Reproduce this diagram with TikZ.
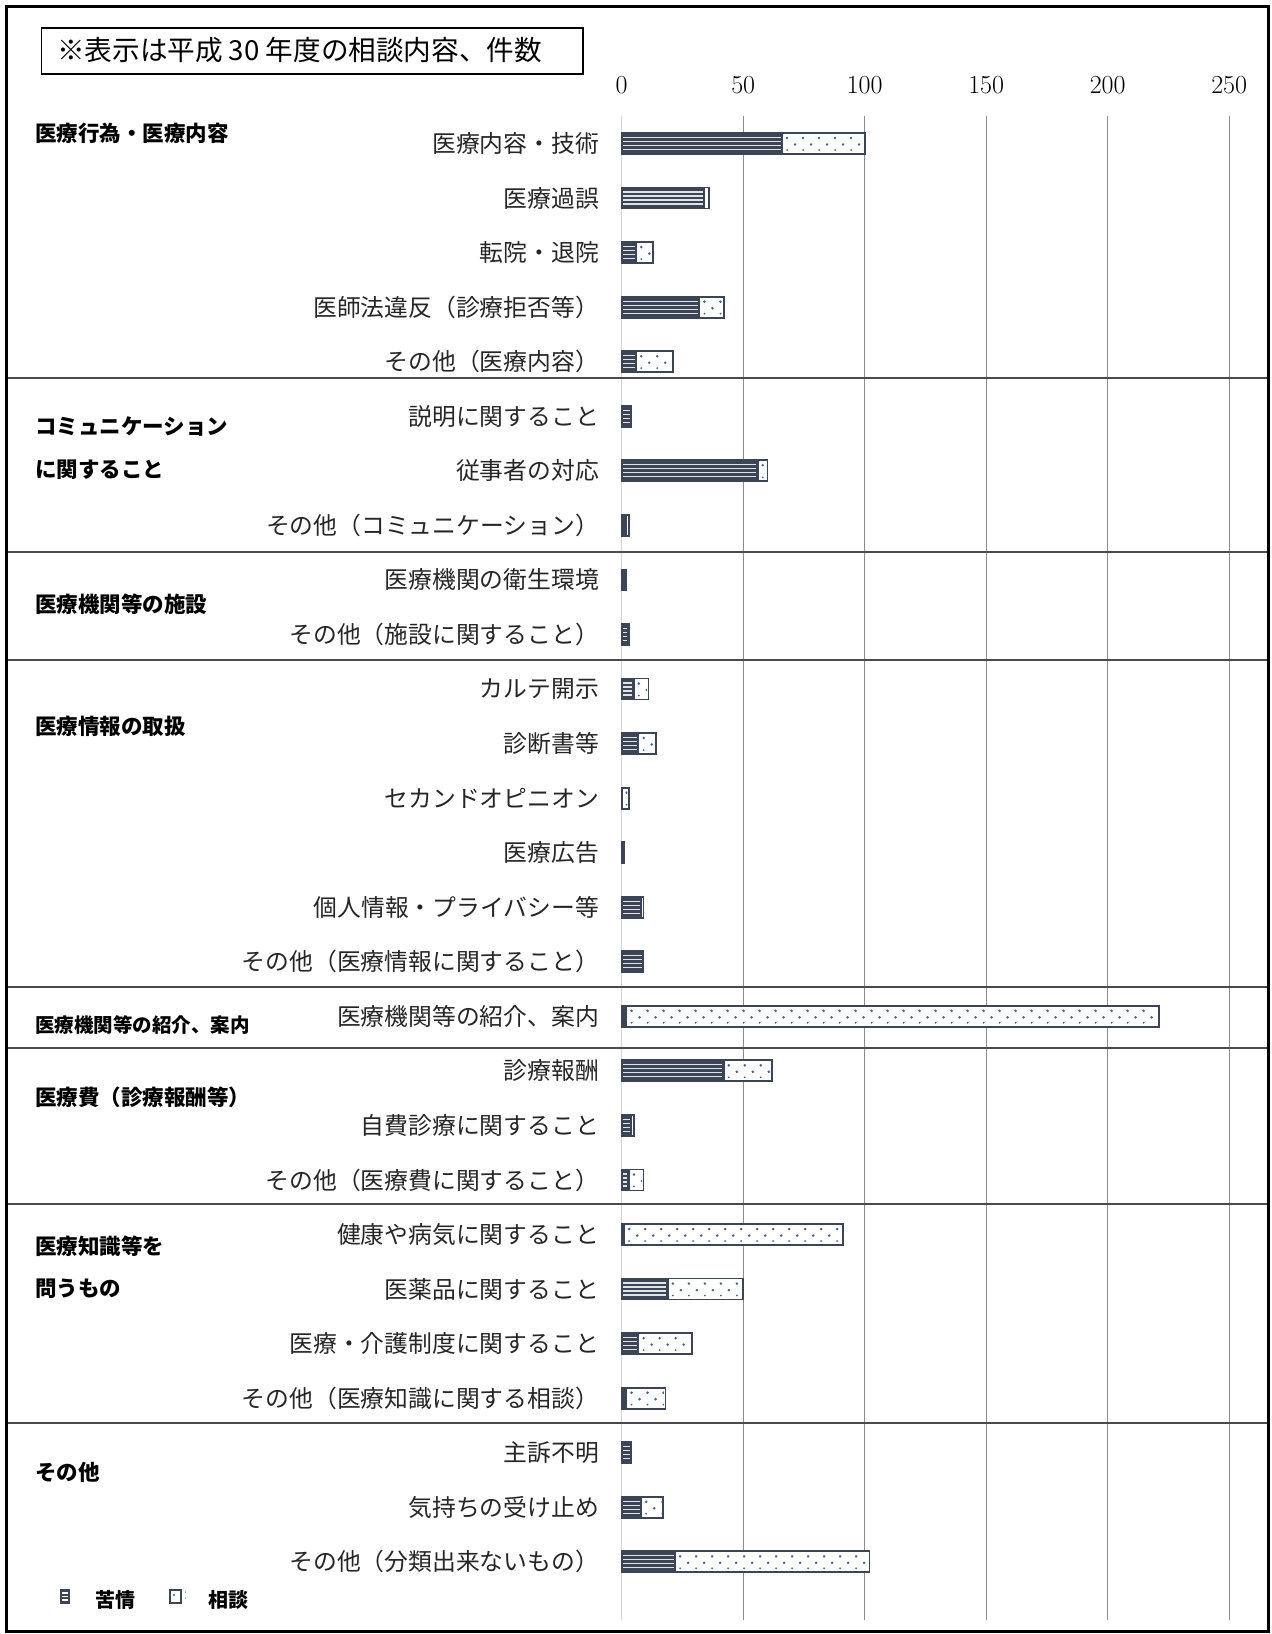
\documentclass[tikz,border=0pt]{standalone}
\usepackage{fontspec}
\newfontfamily\jp{Noto Sans CJK JP}
\definecolor{bardark}{HTML}{3B4556}
\definecolor{dotblue}{HTML}{3F62A8}
\definecolor{gridgray}{HTML}{8C8C8C}
\definecolor{gridlight}{HTML}{D4D4D4}
\definecolor{sepgray}{HTML}{4A4A4A}
\def\xz{621.7}
\newcommand\mybar[3]{%
  \pgfmathsetmacro\ya{#1-10.5}%
  \pgfmathsetmacro\yb{#1+10.5}%
  \pgfmathsetmacro\xa{\xz+2.43*#2}%
  \pgfmathsetmacro\xb{\xz+2.43*(#2+#3)}%
  \ifdim #2pt>0pt
    \fill[bardark] (\xz,\ya) rectangle (\xa,\yb);
    \ifdim #2pt>2pt
      \foreach \dd in {-6,-2,2,6} \draw[white!85!bardark,line width=1.2] (\xz+1.5,#1+\dd) -- (\xa-1.5,#1+\dd);
    \fi
  \fi
  \ifdim #3pt>0pt
    \fill[white] (\xa,\ya) rectangle (\xb,\yb);
    \begin{scope}
      \clip (\xa+1.5,\ya+1.5) rectangle (\xb-1.5,\yb-1.5);
      \pgfmathtruncatemacro\nd{(\xb-\xa)/16}
      \foreach \k in {0,...,\nd} {
        \fill[dotblue] (\xa+5+16*\k,#1-5.5) circle (1.4);
        \fill[dotblue] (\xa+13+16*\k,#1+1) circle (1.4);
        \fill[dotblue] (\xa+5+16*\k,#1+6.5) circle (1.0);
      }
    \end{scope}
    \draw[bardark,line width=1.5] (\xa,\ya) -- (\xa,\yb);
  \fi
  \draw[bardark,line width=1.8] (\xz,\ya) rectangle (\xb,\yb);
}
\tikzset{
  item/.style={anchor=east, inner sep=0, text=black!85, font=\jp\fontsize{23.8}{24}\selectfont},
  cat/.style={anchor=west, inner sep=0, text=black, font=\jp\bfseries\fontsize{21.5}{22}\selectfont},
  axlab/.style={inner sep=0, text=black, font=\fontsize{26}{26}\selectfont},
  leg/.style={anchor=west, inner sep=0, text=black, font=\jp\bfseries\fontsize{20}{20}\selectfont},
}
\begin{document}
\begin{tikzpicture}[x=1pt,y=-1pt]
\useasboundingbox (0,0) rectangle (1272,1634);
\fill[white] (0,0) rectangle (1272,1634);
% grid
\draw[gridlight,line width=1.3] (621.7,116) -- (621.7,1620);
\foreach \k in {1,...,5} \draw[gridgray,line width=1.3] (621.7+121.5*\k,116) -- (621.7+121.5*\k,1620);
% axis labels
\foreach \k/\v in {0/0,1/50,2/100,3/150,4/200,5/250}
  \node[axlab] (a\k) at (621.7+121.5*\k,85) {\v};
% separators
\foreach \s in {378,552,660,987,1048,1204,1423}
  \draw[sepgray,line width=1.4] (6,\s) -- (1268,\s);
% frame
\draw[black,line width=3] (6.5,6.5) rectangle (1268.5,1631);
% title
\node[draw=black,line width=1.6,anchor=north west,minimum width=541.5pt,minimum height=46pt,inner sep=0] (titlebox) at (40.5,27) {};
\node[anchor=west,inner sep=0,font=\jp\fontsize{27.6}{28}\selectfont] (title) at (57,50) {※表示は平成 30 年度の相談内容、件数};
% rows
\foreach \i/\t/\a/\b in {
 1/医療内容・技術/66/34,
 2/医療過誤/34/2,
 3/転院・退院/6/7,
 4/医師法違反（診療拒否等）/32/10,
 5/その他（医療内容）/6/15,
 6/説明に関すること/4/0,
 7/従事者の対応/56/4,
 8/その他（コミュニケーション）/2/1,
 9/医療機関の衛生環境/2/0,
 10/その他（施設に関すること）/3/0,
 11/カルテ開示/5/6,
 12/診断書等/7/7,
 13/セカンドオピニオン/0/3,
 14/医療広告/1/0,
 15/個人情報・プライバシー等/8/1,
 16/その他（医療情報に関すること）/9/0,
 17/医療機関等の紹介、案内/2/219,
 18/診療報酬/42/20,
 19/自費診療に関すること/4/1,
 20/その他（医療費に関すること）/3/6,
 21/健康や病気に関すること/1/90,
 22/医薬品に関すること/19/31,
 23/医療・介護制度に関すること/7/22,
 24/その他（医療知識に関する相談）/2/16,
 25/主訴不明/4/0,
 26/気持ちの受け止め/8/9,
 27/その他（分類出来ないもの）/22/80}
{
  \pgfmathsetmacro\yy{143.5+54.55*(\i-1)}
  \node[item] (r\i) at (599,\yy) {\t};
  \mybar{\yy}{\a}{\b}
}
% categories
\node[cat] (c1) at (35,133) {医療行為・医療内容};
\node[cat] (c2a) at (35,427) {コミュニケーション};
\node[cat] (c2b) at (35,470) {に関すること};
\node[cat] (c3) at (35,604) {医療機関等の施設};
\node[cat] (c4) at (35,726) {医療情報の取扱};
\node[cat,font=\jp\bfseries\fontsize{19.5}{20}\selectfont] (c5) at (35,1025) {医療機関等の紹介、案内};
\node[cat] (c6) at (35,1097) {医療費（診療報酬等）};
\node[cat] (c7a) at (35,1246) {医療知識等を};
\node[cat] (c7b) at (35,1289) {問うもの};
\node[cat] (c8) at (35,1472) {その他};
% legend
\fill[bardark] (59.5,1589) rectangle (70,1604);
\foreach \dd in {1593,1596.5,1600} \draw[white,line width=1.1] (62,\dd) -- (67.5,\dd);
\node[leg] (l1) at (95,1600) {苦情};
\fill[white] (170,1590) rectangle (181,1603);
\draw[bardark,line width=1.8] (170,1590) rectangle (181,1603);
\fill[dotblue] (174,1595) circle (1.1);
\fill[dotblue] (185.5,1592) circle (0.7);
\fill[dotblue] (185.5,1598) circle (0.7);
\node[leg] (l2) at (208,1600) {相談};
\end{tikzpicture}
\end{document}
